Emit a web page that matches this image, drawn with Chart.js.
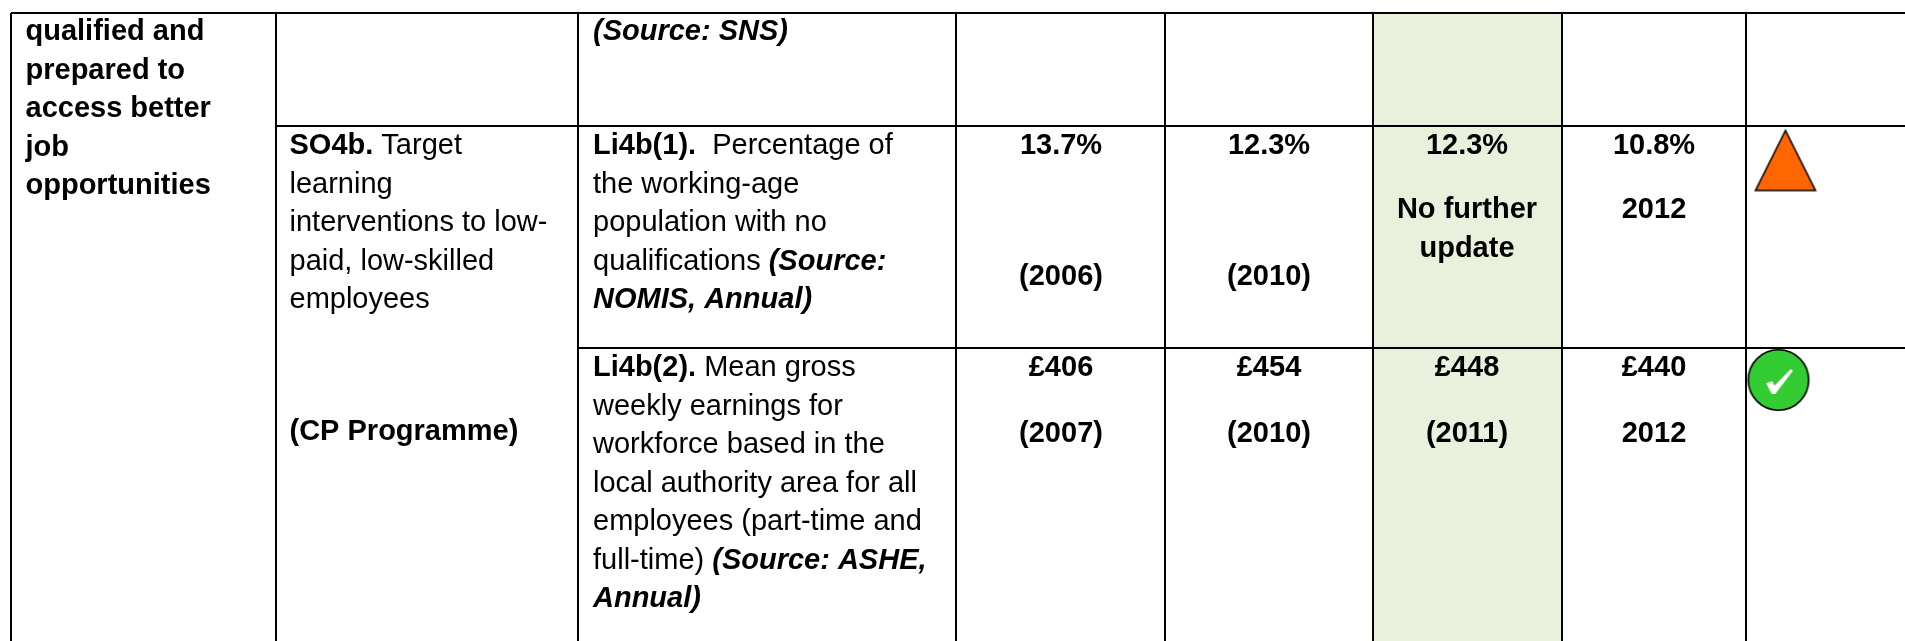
<!DOCTYPE html>
<html>
<head>
<meta charset="utf-8">
<title>Li4b indicators</title>
<script src="https://cdn.jsdelivr.net/npm/chart.js@4"></script>
<style>
  html, body { margin: 0; padding: 0; background: #fff; overflow: hidden; }
  canvas { display: block; }
</style>
</head>
<body>
<canvas id="table" width="1905" height="641"></canvas>
<script>
// table content
var outcomeLines = ['qualified and', 'prepared to', 'access better', 'job', 'opportunities'];
var objectiveLines = [
  [['SO4b.', 'b'], [' Target', '']],
  [['learning', '']],
  [['interventions to low-', '']],
  [['paid, low-skilled', '']],
  [['employees', '']]
];
var programmeLine = '(CP Programme)';
var sourceLine = '(Source: SNS)';
var indicator1Lines = [
  [['Li4b(1).', 'b'], ['  Percentage of', '']],
  [['the working-age', '']],
  [['population with no', '']],
  [['qualifications ', ''], ['(Source:', 'bi']],
  [['NOMIS, Annual)', 'bi']]
];
var indicator2Lines = [
  [['Li4b(2).', 'b'], [' Mean gross', '']],
  [['weekly earnings for', '']],
  [['workforce based in the', '']],
  [['local authority area for all', '']],
  [['employees (part-time and', '']],
  [['full-time) ', ''], ['(Source: ASHE,', 'bi']],
  [['Annual)', 'bi']]
];
var row1Values = ['13.7%', '12.3%', '12.3%', '10.8%'];
var row1Years = ['(2006)', '(2010)', 'No further', '2012'];
var row1Extra = 'update';
var row2Values = ['£406', '£454', '£448', '£440'];
var row2Years = ['(2007)', '(2010)', '(2011)', '2012'];

// grid, in the units of the two axes
var colEdges = [11, 276, 578, 956, 1165, 1373, 1562, 1746];
var rowEdges = [13, 126, 348];
var pageRight = 1905;
var pageBottom = 641;
var valueCentres = [1061, 1269, 1467, 1654];
var greenCol = [1373, 1562];
var triangleAt = [1785.5, 160.5];
var tickAt = [1778.5, 380];

var fontSize = 29;
var lineStep = 38.5;

function triangleImage() {
  var c = document.createElement('canvas');
  c.width = 66;
  c.height = 66;
  var g = c.getContext('2d');
  g.beginPath();
  g.moveTo(33, 3);
  g.lineTo(63, 63);
  g.lineTo(3, 63);
  g.closePath();
  g.fillStyle = '#FF6600';
  g.fill();
  g.lineWidth = 1.6;
  g.lineJoin = 'miter';
  g.strokeStyle = '#000';
  g.stroke();
  return c;
}

function tickImage() {
  var c = document.createElement('canvas');
  c.width = 66;
  c.height = 66;
  var g = c.getContext('2d');
  g.beginPath();
  g.arc(33, 33, 30.2, 0, Math.PI * 2);
  g.fillStyle = '#33CC33';
  g.fill();
  g.lineWidth = 1.6;
  g.strokeStyle = '#000';
  g.stroke();
  var tick = [[-12.3, 3.3], [-6.3, 1.3], [-4, 5.7], [12.3, -11], [14.3, -9], [-3.3, 14], [-6.7, 14]];
  g.beginPath();
  tick.forEach(function (p, i) {
    if (i === 0) g.moveTo(33 + p[0], 33 + p[1]);
    else g.lineTo(33 + p[0], 33 + p[1]);
  });
  g.closePath();
  g.fillStyle = '#fff';
  g.fill();
  return c;
}

function rule(x1, y1, x2, y2) {
  return {
    type: 'scatter',
    showLine: true,
    data: [{ x: x1, y: y1 }, { x: x2, y: y2 }],
    borderColor: '#000',
    borderWidth: 2,
    pointRadius: 0,
    order: 1
  };
}

var datasets = [{
  type: 'scatter',
  showLine: true,
  data: [{ x: greenCol[0], y: rowEdges[0] }, { x: greenCol[1], y: rowEdges[0] }],
  borderWidth: 0,
  pointRadius: 0,
  backgroundColor: '#E9F1DD',
  fill: { value: pageBottom },
  order: 3
}];

colEdges.forEach(function (x) {
  datasets.push(rule(x, rowEdges[0], x, pageBottom));
});
datasets.push(rule(colEdges[0], rowEdges[0], pageRight, rowEdges[0]));
datasets.push(rule(colEdges[1], rowEdges[1], pageRight, rowEdges[1]));
datasets.push(rule(colEdges[2], rowEdges[2], pageRight, rowEdges[2]));

datasets.push({
  type: 'scatter',
  data: [{ x: triangleAt[0], y: triangleAt[1] }],
  pointStyle: triangleImage(),
  pointRadius: 30,
  order: 0
});
datasets.push({
  type: 'scatter',
  data: [{ x: tickAt[0], y: tickAt[1] }],
  pointStyle: tickImage(),
  pointRadius: 30,
  order: 0
});

function fontFor(style) {
  var weight = style.indexOf('b') >= 0 ? 'bold ' : '';
  var slant = style.indexOf('i') >= 0 ? 'italic ' : '';
  return slant + weight + fontSize + 'px "Liberation Sans"';
}

var cellText = {
  id: 'cellText',
  afterDatasetsDraw: function (chart) {
    var ctx = chart.ctx;
    var xs = chart.scales.x;
    var ys = chart.scales.y;
    ctx.save();
    ctx.fillStyle = '#000';
    ctx.textBaseline = 'alphabetic';

    function left(runs, x, y) {
      var px = xs.getPixelForValue(x);
      ctx.textAlign = 'left';
      runs.forEach(function (run) {
        ctx.font = fontFor(run[1]);
        ctx.fillText(run[0], px, ys.getPixelForValue(y));
        px += ctx.measureText(run[0]).width;
      });
    }
    function centre(text, x, y) {
      ctx.textAlign = 'center';
      ctx.font = fontFor('b');
      ctx.fillText(text, xs.getPixelForValue(x), ys.getPixelForValue(y));
    }

    outcomeLines.forEach(function (line, i) {
      left([[line, 'b']], 25.5, 40 + i * lineStep);
    });
    objectiveLines.forEach(function (line, i) {
      left(line, 289.5, 154 + i * lineStep);
    });
    left([[programmeLine, 'b']], 289.5, 440);
    left([[sourceLine, 'bi']], 593, 40);
    indicator1Lines.forEach(function (line, i) {
      left(line, 593, 154 + i * lineStep);
    });
    indicator2Lines.forEach(function (line, i) {
      left(line, 593, 376 + i * lineStep);
    });

    valueCentres.forEach(function (x, i) {
      centre(row1Values[i], x, 154);
      centre(row1Years[i], x, i < 2 ? 285 : 218);
      centre(row2Values[i], x, 376);
      centre(row2Years[i], x, 441.5);
    });
    centre(row1Extra, valueCentres[2], 256.5);
    ctx.restore();
  }
};

var tableChart = new Chart(document.getElementById('table'), {
  type: 'scatter',
  data: { datasets: datasets },
  options: {
    responsive: false,
    animation: false,
    layout: { padding: 0, autoPadding: false },
    scales: {
      x: { type: 'linear', min: 0, max: pageRight, display: false },
      y: { type: 'linear', min: 0, max: pageBottom, reverse: true, display: false }
    },
    plugins: {
      legend: { display: false },
      tooltip: { enabled: false }
    }
  },
  plugins: [cellText]
});
</script>
</body>
</html>
